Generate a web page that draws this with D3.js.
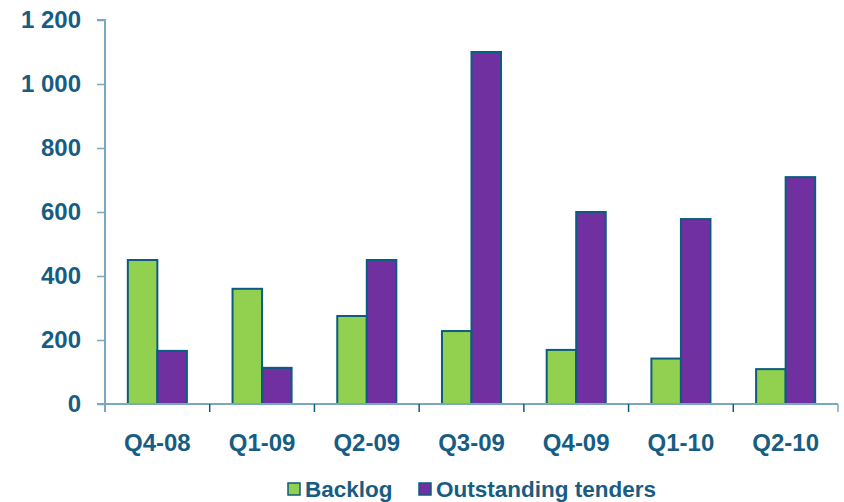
<!DOCTYPE html>
<html>
<head>
<meta charset="utf-8">
<script src="https://cdn.jsdelivr.net/npm/d3@7"></script>
<style>
  body { margin: 0; background: #fff; }
  text { font-family: "Liberation Sans", Arial, sans-serif; font-weight: bold; fill: #175d83; }
</style>
</head>
<body>
<svg id="chart" width="844" height="502"></svg>
<script>
const quarters = ["Q4-08", "Q1-09", "Q2-09", "Q3-09", "Q4-09", "Q1-10", "Q2-10"];
const backlog = [450, 360, 275, 228, 169, 142, 109];
const tenders = [166, 113, 450, 1100, 600, 578, 709];
const seriesNames = ["Backlog", "Outstanding tenders"];
const yTicks = [0, 200, 400, 600, 800, 1000, 1200];

const colors = ["#92d050", "#7030a0"];
const strokeColor = "#0b5c80";
const axisColor = "#7ba7bf";

const svg = d3.select("#chart");
const plotLeft = 105, plotRight = 838, plotTop = 20, plotBottom = 404;

const data = quarters.map((q, i) => ({q, values: [backlog[i], tenders[i]]}));

// scales
let x0 = d3.scaleBand()
    .domain(quarters)
    .range([plotLeft, plotRight])
    .paddingInner(0.436)
    .paddingOuter(0.218);

let x1 = d3.scaleBand()
    .domain([0, 1])
    .range([0, x0.bandwidth()]);

let y = d3.scaleLinear()
    .domain([0, 1200])
    .range([plotBottom, plotTop]);

// Y axis
let yAxis = svg.append("g")
    .attr("transform", "translate(" + plotLeft + ",0)")
    .call(d3.axisLeft(y).tickValues(yTicks).tickSize(8).tickPadding(16)
        .tickFormat(d => d3.format(",")(d).replace(/,/g, " ")));
yAxis.select(".domain").attr("stroke", axisColor).attr("stroke-width", 2)
    .attr("d", "M0," + (plotBottom + 8) + "V" + plotTop + "H-8");
yAxis.selectAll(".tick line").attr("stroke", axisColor).attr("stroke-width", 1.5);
yAxis.selectAll(".tick text").attr("font-size", 24).attr("fill", "#175d83");

// bars
let groups = svg.append("g").selectAll("g")
    .data(data)
    .join("g")
    .attr("transform", d => "translate(" + x0(d.q) + ",0)");

groups.selectAll("rect")
    .data(d => d.values.map((v, i) => ({i, v})))
    .join("rect")
    .attr("x", d => x1(d.i))
    .attr("y", d => y(d.v))
    .attr("width", x1.bandwidth())
    .attr("height", d => y(0) - y(d.v))
    .attr("fill", d => colors[d.i])
    .attr("stroke", strokeColor)
    .attr("stroke-width", 2);

// X axis
let xAxis = svg.append("g");
xAxis.append("line")
    .attr("x1", plotLeft - 8).attr("x2", plotRight)
    .attr("y1", plotBottom).attr("y2", plotBottom)
    .attr("stroke", axisColor).attr("stroke-width", 2);
xAxis.selectAll(".xtick")
    .data(d3.range(quarters.length + 1))
    .join("line")
    .attr("class", "xtick")
    .attr("x1", i => plotLeft + i * x0.step())
    .attr("x2", i => plotLeft + i * x0.step())
    .attr("y1", plotBottom)
    .attr("y2", plotBottom + 8)
    .attr("stroke", i => i === 0 || i === quarters.length ? axisColor : strokeColor)
    .attr("stroke-width", 1.5);
xAxis.selectAll("text")
    .data(quarters)
    .join("text")
    .attr("x", d => x0(d) + x0.bandwidth() / 2)
    .attr("y", 451)
    .attr("text-anchor", "middle")
    .attr("font-size", 24)
    .text(d => d);

// legend
const legendX = [288, 419];
let legend = svg.append("g").selectAll("g")
    .data(seriesNames)
    .join("g")
    .attr("transform", (d, i) => "translate(" + legendX[i] + ",483)");
legend.append("rect")
    .attr("width", 12).attr("height", 12)
    .attr("fill", (d, i) => colors[i])
    .attr("stroke", strokeColor)
    .attr("stroke-width", 1.5);
legend.append("text")
    .attr("x", 17)
    .attr("y", 14)
    .attr("font-size", 22.5)
    .text(d => d);
</script>
</body>
</html>
